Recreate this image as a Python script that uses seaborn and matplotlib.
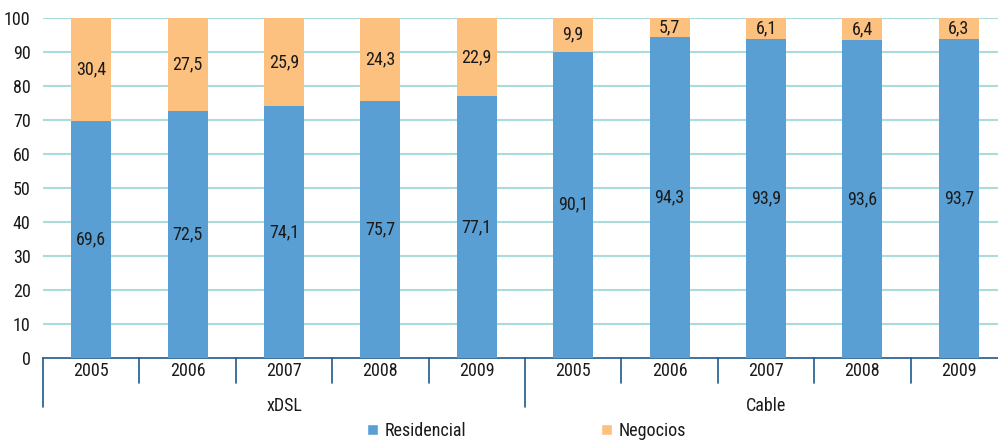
import matplotlib
matplotlib.use("Agg")
import matplotlib.pyplot as plt
import seaborn as sns
import pandas as pd
from matplotlib.patches import Patch
from matplotlib import font_manager

groups = ["xDSL", "Cable"]
years = ["2005", "2006", "2007", "2008", "2009"]
residencial_xdsl = [69.6, 72.5, 74.1, 75.7, 77.1]
negocios_xdsl = [30.4, 27.5, 25.9, 24.3, 22.9]
residencial_cable = [90.1, 94.3, 93.9, 93.6, 93.7]
negocios_cable = [9.9, 5.7, 6.1, 6.4, 6.3]
yticks = [0, 10, 20, 30, 40, 50, 60, 70, 80, 90, 100]

BLUE = "#5A9FD4"
ORANGE = "#FDC17F"
GRID = "#A9DCDB"
AXIS = "#1F5A8C"
TXT = "#1a1a1a"

sns.set_style("white")
names = {f.name for f in font_manager.fontManager.ttflist}
fam = [n for n in ["Liberation Sans Narrow", "Roboto Condensed", "DejaVu Sans"] if n in names]
plt.rcParams["font.family"] = fam + ["DejaVu Sans"]
plt.rcParams["font.stretch"] = "condensed"
FS = 13

res = residencial_xdsl + residencial_cable
neg = negocios_xdsl + negocios_cable
keys = [f"{g} {y}" for g in groups for y in years]
df = pd.DataFrame({"key": keys, "res": res, "neg": neg})
df["total"] = df["res"] + df["neg"]

W, H = 998, 444
fig = plt.figure(figsize=(W / 100, H / 100), dpi=100)
ax = fig.add_axes([43 / W, (H - 358) / H, 964 / W, 340 / H])

for t in yticks[1:]:
    ax.axhline(t, color=GRID, lw=1.5, zorder=0)

sns.barplot(data=df, x="key", y="total", order=keys, color=ORANGE,
            width=0.415, saturation=1, ax=ax, zorder=2, linewidth=0)
sns.barplot(data=df, x="key", y="res", order=keys, color=BLUE,
            width=0.415, saturation=1, ax=ax, zorder=3, linewidth=0)

for i, (r, n) in enumerate(zip(res, neg)):
    ax.text(i, r / 2, f"{r:.1f}".replace(".", ","), ha="center", va="center",
            fontsize=FS, color=TXT, zorder=4)
    ax.text(i, r + n / 2, f"{n:.1f}".replace(".", ","), ha="center", va="center",
            fontsize=FS, color=TXT, zorder=4)

ax.set_xlim(-0.5, 9.5)
ax.set_ylim(0, 100)
ax.set_yticks(yticks)
ax.set_yticklabels([str(t) for t in yticks], fontsize=FS, color=TXT)
ax.tick_params(axis="y", length=0, pad=9)
ax.set_xticks([])
ax.set_xlabel("")
ax.set_ylabel("")
for s in ["top", "right", "left"]:
    ax.spines[s].set_visible(False)
ax.spines["bottom"].set_color(AXIS)
ax.spines["bottom"].set_linewidth(1.2)

trans = ax.get_xaxis_transform()
px = 1 / 340  # one pixel in axes-y units
for i in range(10):
    ax.text(i, -13 * px, years[i % 5], transform=trans, ha="center", va="center",
            fontsize=FS, color=TXT)
for b in range(10):
    x = b - 0.5
    depth = 49 if b in (0, 5) else 25
    ax.plot([x, x], [0, -depth * px], transform=trans, color=AXIS, lw=1.2,
            clip_on=False)
for gi, g in enumerate(groups):
    ax.text(2 + gi * 5, -48 * px, g, transform=trans, ha="center", va="center",
            fontsize=FS, color=TXT)

for col, lab, xpx in [(BLUE, "Residencial", 367), (ORANGE, "Negocios", 601)]:
    lg = fig.legend(handles=[Patch(facecolor=col, label=lab)], loc="center left",
                    bbox_to_anchor=(xpx / W, 1 - 431 / H), frameon=False,
                    fontsize=FS, handlelength=0.62, handleheight=0.62,
                    handletextpad=0.35, borderpad=0, borderaxespad=0)
    for t in lg.get_texts():
        t.set_color(TXT)

fig.savefig("out.png", dpi=100)
